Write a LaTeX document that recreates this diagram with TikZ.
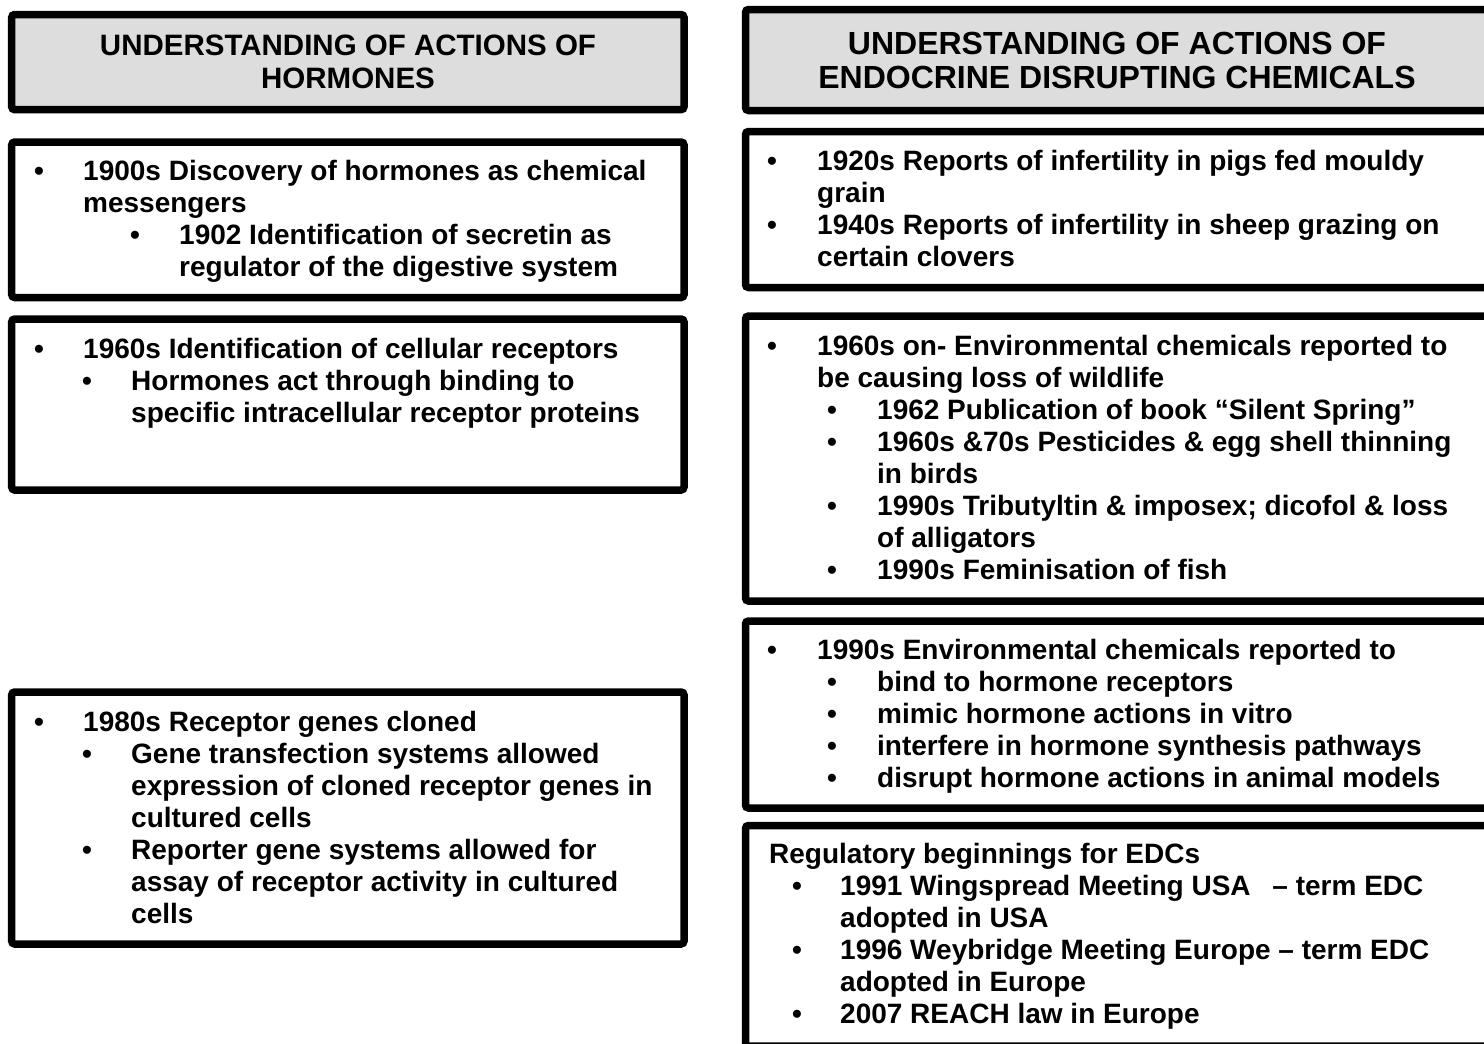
\documentclass[tikz,border=0pt]{standalone}
\usepackage{fontspec}
\setmainfont{Liberation Sans}
\definecolor{headgray}{RGB}{221,221,221}
\newcommand{\bodyfnt}{\fontsize{28}{32.2}\selectfont\bfseries}
\newcommand{\lheadfnt}{\fontsize{29.5}{33}\selectfont\bfseries}
\newcommand{\rheadfnt}{\fontsize{32}{34}\selectfont\bfseries}
\tikzset{
  boxs/.style={draw=black, line width=7.5pt, rounded corners=3pt, fill=white},
  hboxs/.style={boxs, fill=headgray},
  txt/.style={anchor=base west, inner sep=0pt, font=\bodyfnt},
  bul/.style={anchor=base, inner sep=0pt, font=\bodyfnt},
  lheadtxt/.style={anchor=base, inner sep=0pt, font=\lheadfnt},
  rheadtxt/.style={anchor=base, inner sep=0pt, font=\rheadfnt}
}
\begin{document}
\begin{tikzpicture}[x=1pt,y=-1pt]
\useasboundingbox (0,0) rectangle (1484,1044);
\clip (0,0) rectangle (1484,1044);
\fill[white] (0,0) rectangle (1484,1044);
% boxes
\draw[hboxs] (11.7,14.5) rectangle (684,109.7);
\draw[boxs] (11.7,142) rectangle (684,297.5);
\draw[boxs] (11.7,319) rectangle (684,490);
\draw[boxs] (11.7,692) rectangle (684,944);
\draw[hboxs] (745.5,9.5) rectangle (1489,110.5);
\draw[boxs] (745.5,131.5) rectangle (1489,287.5);
\draw[boxs] (745.5,316) rectangle (1489,601);
\draw[boxs] (745.5,621) rectangle (1489,808);
\draw[boxs] (745.5,825.5) rectangle (1489,1046);
% headers
\node[lheadtxt] (lh1) at (348,55) {UNDERSTANDING OF ACTIONS OF};
\node[lheadtxt] (lh2) at (348,88) {HORMONES};
\node[rheadtxt] (rh1) at (1117,54) {UNDERSTANDING OF ACTIONS OF};
\node[rheadtxt] (rh2) at (1117,88) {ENDOCRINE DISRUPTING CHEMICALS};
% L1
\node[bul] (l1b1) at (39,180) {•};
\node[txt] (l1t1) at (83,180) {1900s Discovery of hormones as chemical};
\node[txt] (l1t2) at (83,212) {messengers};
\node[bul] (l1b2) at (135,244) {•};
\node[txt] (l1t3) at (179,244) {1902 Identification of secretin as};
\node[txt] (l1t4) at (179,276) {regulator of the digestive system};
% L2
\node[bul] (l2b1) at (39,358) {•};
\node[txt] (l2t1) at (83,358) {1960s Identification of cellular receptors};
\node[bul] (l2b2) at (87,390) {•};
\node[txt] (l2t2) at (131,390) {Hormones act through binding to};
\node[txt] (l2t3) at (131,422) {specific intracellular receptor proteins};
% L3
\node[bul] (l3b1) at (39,731) {•};
\node[txt] (l3t1) at (83,731) {1980s Receptor genes cloned};
\node[bul] (l3b2) at (87,763) {•};
\node[txt] (l3t2) at (131,763) {Gene transfection systems allowed};
\node[txt] (l3t3) at (131,795) {expression of cloned receptor genes in};
\node[txt] (l3t4) at (131,827) {cultured cells};
\node[bul] (l3b3) at (87,859) {•};
\node[txt] (l3t5) at (131,859) {Reporter gene systems allowed for};
\node[txt] (l3t6) at (131,891) {assay of receptor activity in cultured};
\node[txt] (l3t7) at (131,923) {cells};
% R1
\node[bul] (r1b1) at (772,170) {•};
\node[txt] (r1t1) at (817,170) {1920s Reports of infertility in pigs fed mouldy};
\node[txt] (r1t2) at (817,202) {grain};
\node[bul] (r1b2) at (772,234) {•};
\node[txt] (r1t3) at (817,234) {1940s Reports of infertility in sheep grazing on};
\node[txt] (r1t4) at (817,266) {certain clovers};
% R2
\node[bul] (r2b1) at (772,355) {•};
\node[txt] (r2t1) at (817,355) {1960s on- Environmental chemicals reported to};
\node[txt] (r2t2) at (817,387) {be causing loss of wildlife};
\node[bul] (r2b2) at (832,419) {•};
\node[txt] (r2t3) at (877,419) {1962 Publication of book “Silent Spring”};
\node[bul] (r2b3) at (832,451) {•};
\node[txt] (r2t4) at (877,451) {1960s \&70s Pesticides \& egg shell thinning};
\node[txt] (r2t5) at (877,483) {in birds};
\node[bul] (r2b4) at (832,515) {•};
\node[txt] (r2t6) at (877,515) {1990s Tributyltin \& imposex; dicofol \& loss};
\node[txt] (r2t7) at (877,547) {of alligators};
\node[bul] (r2b5) at (832,579) {•};
\node[txt] (r2t8) at (877,579) {1990s Feminisation of fish};
% R3
\node[bul] (r3b1) at (772,659) {•};
\node[txt] (r3t1) at (817,659) {1990s Environmental chemicals reported to};
\node[bul] (r3b2) at (832,691) {•};
\node[txt] (r3t2) at (877,691) {bind to hormone receptors};
\node[bul] (r3b3) at (832,723) {•};
\node[txt] (r3t3) at (877,723) {mimic hormone actions in vitro};
\node[bul] (r3b4) at (832,755) {•};
\node[txt] (r3t4) at (877,755) {interfere in hormone synthesis pathways};
\node[bul] (r3b5) at (832,787) {•};
\node[txt] (r3t5) at (877,787) {disrupt hormone actions in animal models};
% R4
\node[txt] (r4t0) at (769,863) {Regulatory beginnings for EDCs};
\node[bul] (r4b1) at (797,895) {•};
\node[txt] (r4t1) at (840,895) {1991 Wingspread Meeting USA\hspace{0.5em} – term EDC};
\node[txt] (r4t2) at (840,927) {adopted in USA};
\node[bul] (r4b2) at (797,959) {•};
\node[txt] (r4t3) at (840,959) {1996 Weybridge Meeting Europe – term EDC};
\node[txt] (r4t4) at (840,991) {adopted in Europe};
\node[bul] (r4b3) at (797,1023) {•};
\node[txt] (r4t5) at (840,1023) {2007 REACH law in Europe};
\end{tikzpicture}
\end{document}
